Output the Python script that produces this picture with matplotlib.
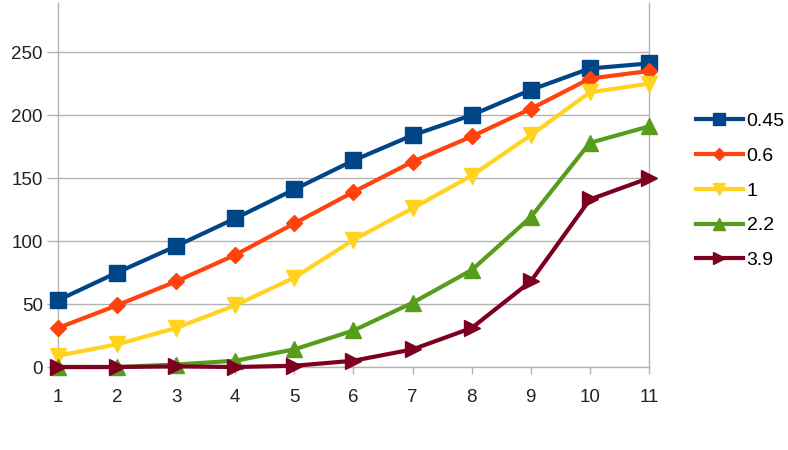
import matplotlib.pyplot as plt

# datos
x = [1, 2, 3, 4, 5, 6, 7, 8, 9, 10, 11]
s045 = [53, 75, 96, 118, 141, 164, 184, 200, 220, 237, 241]
s06 = [31, 49, 68, 89, 114, 139, 163, 183, 205, 229, 235]
s1 = [9, 18, 31, 49, 71, 101, 126, 152, 184, 218, 225]
s22 = [0, 0, 2, 5, 14, 29, 51, 77, 119, 178, 191]
s39 = [0, 0, 0.5, 0, 1, 5, 14, 31, 68, 133, 150]
labels = ['0.45', '0.6', '1', '2.2', '3.9']

series = [s045, s06, s1, s22, s39]
colors = ['#004586', '#ff420e', '#ffd320', '#579d1c', '#7e0021']
markers = ['s', 'D', 'v', '^', '>']
msizes = [11, 8, 11, 11, 11]

plt.rcParams['font.family'] = ['Liberation Sans', 'DejaVu Sans']

fig = plt.figure(figsize=(7.88, 4.5), dpi=100)
ax = fig.add_axes([0.0736, 0.1844, 0.75, 0.809])

for ys, c, m, ms, lb in zip(series, colors, markers, msizes, labels):
    ax.plot(x, ys, color=c, marker=m, markersize=ms, linewidth=3, label=lb,
            clip_on=False, zorder=3)

ax.set_xlim(1, 11)
ax.set_ylim(0, 289)
ax.set_xticks(x)
ax.set_yticks([0, 50, 100, 150, 200, 250])
ax.yaxis.grid(True, color='#b3b3b3', linewidth=1)
ax.set_axisbelow(True)

for side in ['left', 'right', 'bottom']:
    ax.spines[side].set_color('#b3b3b3')
    ax.spines[side].set_linewidth(1)
ax.spines['top'].set_visible(False)

ax.tick_params(axis='x', length=5, width=1, color='#b3b3b3', pad=11,
               labelsize=13.5, labelcolor='#222222')
ax.tick_params(axis='y', length=8, width=1, color='#b3b3b3', pad=3,
               labelsize=13.5, labelcolor='#222222')

ax.legend(loc='center left', bbox_to_anchor=(1.05, 0.484), frameon=False,
          fontsize=14, handlelength=2.4, handletextpad=0.2, labelspacing=0.88,
          markerscale=0.8)

fig.savefig('out.png', dpi=100)
